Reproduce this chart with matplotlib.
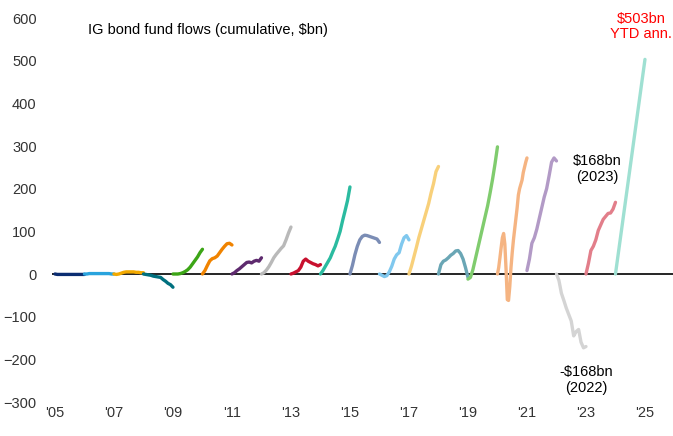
import matplotlib
matplotlib.use("Agg")
import matplotlib.pyplot as plt
import numpy as np

plt.rcParams['font.family'] = ['Liberation Sans', 'DejaVu Sans']

years = list(range(2005, 2025))

flows_2005 = [0, -1, -1, -1, -1, -1, -1, -1, -1, -1, -1, -1, -1]
flows_2006 = [0, 0, 1, 1, 1, 1, 1, 1, 1, 1, 1, 0, 0]
flows_2007 = [0, -1, 0, 2, 4, 5, 5, 5, 5, 4, 4, 3, 3]
flows_2008 = [0, -1, -2, -3, -5, -6, -7, -8, -13, -17, -22, -25, -31]
flows_2009 = [0, 0, 0, 1, 3, 6, 10, 16, 24, 32, 40, 50, 58]
flows_2010 = [0, 8, 20, 31, 36, 38, 42, 50, 58, 65, 71, 72, 68]
flows_2011 = [0, 3, 8, 12, 17, 22, 27, 28, 26, 30, 32, 30, 38]
flows_2012 = [0, 3, 9, 17, 27, 38, 46, 53, 60, 66, 80, 96, 110]
flows_2013 = [0, 2, 5, 8, 16, 30, 35, 30, 27, 24, 22, 19, 22]
flows_2014 = [0, 8, 18, 28, 38, 52, 65, 82, 100, 125, 148, 172, 204]
flows_2015 = [0, 20, 45, 65, 80, 88, 91, 90, 88, 86, 84, 82, 74]
flows_2016 = [0, -3, -6, -4, 5, 18, 35, 45, 50, 70, 85, 90, 80]
flows_2017 = [0, 18, 40, 62, 85, 105, 125, 145, 165, 190, 212, 240, 252]
flows_2018 = [0, 22, 30, 33, 38, 44, 48, 54, 55, 48, 35, 15, -8]
flows_2019 = [-12, -8, 10, 35, 60, 85, 110, 135, 160, 190, 222, 258, 298]
flows_2020 = [0, 15, 38, 62, 85, 95, 70, 10, -60, -62, -30, 15, 50, 80, 105,
              130, 155, 185, 200, 210, 220, 238, 250, 262, 272]
flows_2021 = [8, 35, 72, 85, 105, 130, 155, 180, 200, 230, 262, 272, 265]
flows_2022 = [0, -15, -45, -62, -80, -95, -110, -145, -135, -130, -160, -173, -170]
flows_2023 = [0, 25, 55, 65, 80, 102, 115, 128, 135, 142, 143, 152, 168]
flows_2024 = [0, 503]

series = [flows_2005, flows_2006, flows_2007, flows_2008, flows_2009, flows_2010,
          flows_2011, flows_2012, flows_2013, flows_2014, flows_2015, flows_2016,
          flows_2017, flows_2018, flows_2019, flows_2020, flows_2021, flows_2022,
          flows_2023, flows_2024]

colors = ['#0b2d71', '#29a3dd', '#f2a900', '#00707f', '#3ca516', '#f08300',
          '#5e2a6e', '#b9b9b9', '#c8102e', '#2bbba0', '#7b8db5', '#80c8ee',
          '#f8d07a', '#6aa6b5', '#80cc6e', '#f5b482', '#b29ac6', '#d4d4d4',
          '#e27e8a', '#9fe0d2']

xtick_years = list(range(2005, 2026, 2))
xtick_labels = ["'05", "'07", "'09", "'11", "'13", "'15", "'17", "'19", "'21", "'23", "'25"]
yticks = [-300, -200, -100, 0, 100, 200, 300, 400, 500, 600]

W, H = 673, 436
fig = plt.figure(figsize=(W / 100, H / 100), dpi=100)
ax = fig.add_axes([52 / W, 1 - 402 / H, (W - 52) / W, (402 - 18) / H])

ax.axhline(0, color='black', lw=1.2, zorder=1)
for yr, vals, c in zip(years, series, colors):
    x = np.linspace(yr, yr + 1, len(vals))
    ax.plot(x, vals, color=c, lw=2.4, solid_capstyle='round', zorder=2)

ax.set_xlim(2004.9, 2025.95)
ax.set_ylim(-300, 600)
ax.set_xticks(xtick_years)
ax.set_xticklabels(xtick_labels)
ax.set_yticks(yticks)
for s in ax.spines.values():
    s.set_visible(False)
ax.tick_params(axis='both', length=0, labelsize=10.5, colors='#333333')
ax.tick_params(axis='y', pad=11)
ax.tick_params(axis='x', pad=3)

fig.text(88 / W, 1 - 30 / H, "IG bond fund flows (cumulative, $bn)", fontsize=10.5,
         color='black', va='center', ha='left')

ax.text(2024.88, 580, "$503bn\nYTD ann.", color='#ff0000', fontsize=10.5,
        ha='center', va='center', linespacing=1.15, clip_on=False)
ax.text(2023.37, 246, "$168bn\n(2023)", color='black', fontsize=10.5,
        ha='center', va='center', linespacing=1.15)
ax.text(2023.0, -248, "-$168bn\n(2022)", color='black', fontsize=10.5,
        ha='center', va='center', linespacing=1.15)

fig.savefig("out.png", dpi=100)
